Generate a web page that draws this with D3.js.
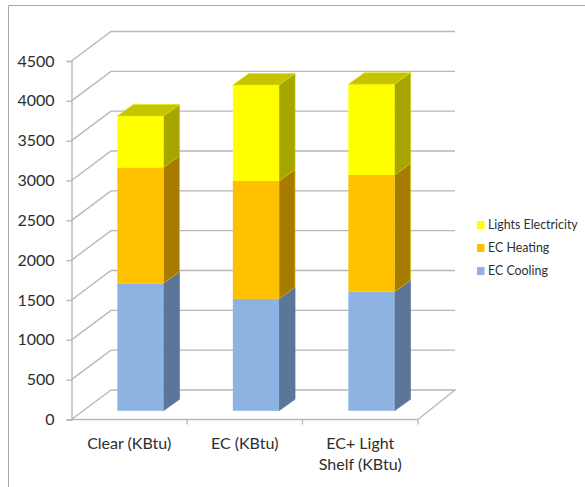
<!DOCTYPE html>
<html>
<head>
<meta charset="utf-8">
<script src="https://cdn.jsdelivr.net/npm/d3@7"></script>
<style>
  html, body { margin: 0; padding: 0; background: #fff; }
  svg { display: block; font-family: Lato, sans-serif; }
</style>
</head>
<body>
<svg></svg>
<script>
let categories = ["Clear (KBtu)", "EC (KBtu)", "EC+ Light|Shelf (KBtu)"]
let seriesNames = ["EC Cooling", "EC Heating", "Lights Electricity"]
let cooling = [1600, 1405, 1495]
let heating = [1455, 1480, 1465]
let lights = [645, 1205, 1140]
let yTicks = [0, 500, 1000, 1500, 2000, 2500, 3000, 3500, 4000, 4500]

let front = ["#8db3e2", "#ffc000", "#ffff00"]
let side = ["#5b7698", "#a67c00", "#a6a600"]
let topFace = "#c4c400"

let width = 585
let height = 487
let gridColor = "#b8b8b8"
let textColor = "#2e2e2e"

// depth of the 3d box, and of the bars inside it
let depthX = 39.5
let depthRightX = 37
let depthY = 29.5
let barDepthX = 16
let barDepthY = 11.5
let barShiftX = 11.2
let barShiftY = 8.7

let svg = d3.select('svg')
  .attr('width', width)
  .attr('height', height)

let xScale = d3.scaleBand()
  .domain(categories)
  .range([71.5, 418])
  .paddingInner(0.6)
  .paddingOuter(0.3)

let yScale = d3.scaleLinear()
  .domain([0, 4500])
  .range([419.5, 61])

let stacks = categories.map((c, i) => {
  let a = cooling[i]
  let b = a + heating[i]
  let t = b + lights[i]
  return { category: c, parts: [[0, a], [a, b], [b, t]] }
})

// chart frame, open at the bottom like the picture
svg.append('path')
  .attr('d', d3.line()([[8.5, height], [8.5, 5.5], [width, 5.5]]))
  .attr('fill', 'none')
  .attr('stroke', '#a6a6a6')
  .attr('stroke-width', 1)

// back wall and side wall of the grid
let x0 = xScale.range()[0]
let x1 = xScale.range()[1]

svg.append('g').selectAll('path')
  .data(yTicks)
  .enter()
  .append('path')
  .attr('d', (d) => {
    let y = yScale(d)
    if (d == 0) {
      return d3.line()([[x0, y], [x0 + depthX, y - depthY]])
    }
    return d3.line()([[x0, y], [x0 + depthX, y - depthY], [x1 + depthRightX, y - depthY]])
  })
  .attr('fill', 'none')
  .attr('stroke', gridColor)
  .attr('stroke-width', 1.4)

// floor: back edge and right edge
let yBase = yScale(0)
svg.append('path')
  .attr('d', d3.line()([[x0 + depthX, yBase - depthY], [x1 + depthRightX, yBase - depthY], [x1, yBase]]))
  .attr('fill', 'none')
  .attr('stroke', gridColor)
  .attr('stroke-width', 1.4)

// y axis
let yAxis = d3.axisLeft(yScale)
  .tickValues(yTicks)
  .tickSize(5)
  .tickPadding(12)
  .tickFormat(d3.format('d'))

let yG = svg.append('g')
  .attr('transform', 'translate(' + x0 + ',0)')
  .call(yAxis)
yG.selectAll('line, path').attr('stroke', gridColor).attr('stroke-width', 1.4)
yG.selectAll('text')
  .attr('fill', textColor)
  .style('font-size', '16px')
  .style('font-family', 'Lato, sans-serif')

// x axis, ticks sit between the categories
let xAxis = d3.axisBottom(xScale).tickSize(0).tickFormat('')
let xG = svg.append('g')
  .attr('transform', 'translate(0,' + yBase + ')')
  .call(xAxis)
xG.select('.domain')
  .attr('d', 'M' + x0 + ',0H' + x1)
  .attr('stroke', gridColor)
  .attr('stroke-width', 1.4)

xG.selectAll('.sep')
  .data(categories)
  .enter()
  .append('line')
  .attr('class', 'sep')
  .attr('x1', (d) => xScale(d) + xScale.bandwidth() + xScale.step() * 0.3)
  .attr('x2', (d) => xScale(d) + xScale.bandwidth() + xScale.step() * 0.3)
  .attr('y1', 0)
  .attr('y2', 5)
  .attr('stroke', gridColor)
  .attr('stroke-width', 1.4)

xG.selectAll('.tick text').remove()
xG.selectAll('.tick')
  .append('text')
  .attr('text-anchor', 'middle')
  .attr('fill', textColor)
  .style('font-size', '16px')
  .style('font-family', 'Lato, sans-serif')
  .selectAll('tspan')
  .data((d) => d.split('|'))
  .enter()
  .append('tspan')
  .attr('x', 0)
  .attr('y', (d, i) => 29 + i * 21.5)
  .text((d) => d)

// bars
let bars = svg.append('g').selectAll('g')
  .data(stacks)
  .enter()
  .append('g')
  .attr('transform', 'translate(' + barShiftX + ',' + (-barShiftY) + ')')

bars.each(function (stack) {
  let g = d3.select(this)
  let left = xScale(stack.category)
  let right = left + xScale.bandwidth()

  stack.parts.forEach((p, i) => {
    let yLow = yScale(p[0])
    let yHigh = yScale(p[1])

    g.append('path')
      .attr('d', d3.line()([
        [right, yLow], [right + barDepthX, yLow - barDepthY],
        [right + barDepthX, yHigh - barDepthY], [right, yHigh]
      ]) + 'Z')
      .attr('fill', side[i])
      .attr('stroke', i == 0 ? side[i] : '#d8c400')
      .attr('stroke-width', 0.6)

    g.append('rect')
      .attr('x', left)
      .attr('y', yHigh)
      .attr('width', xScale.bandwidth())
      .attr('height', yLow - yHigh)
      .attr('fill', front[i])
  })

  let yTop = yScale(stack.parts[2][1])
  g.append('path')
    .attr('d', d3.line()([
      [left, yTop], [left + barDepthX, yTop - barDepthY],
      [right + barDepthX, yTop - barDepthY], [right, yTop]
    ]) + 'Z')
    .attr('fill', topFace)
    .attr('stroke', '#e6e600')
    .attr('stroke-width', 0.6)
})

// legend, top item is the top of the stack
let legendY = d3.scalePoint()
  .domain(seriesNames.slice().reverse())
  .range([225, 271])

let legend = svg.append('g').selectAll('g')
  .data(seriesNames)
  .enter()
  .append('g')
  .attr('transform', (d) => 'translate(477,' + legendY(d) + ')')

legend.append('rect')
  .attr('x', 0)
  .attr('y', -4)
  .attr('width', 7.5)
  .attr('height', 8)
  .attr('fill', (d, i) => front[i])

legend.append('text')
  .attr('x', 11)
  .attr('dy', '0.35em')
  .attr('fill', textColor)
  .style('font-size', '12.4px')
  .text((d) => d)
</script>
</body>
</html>
